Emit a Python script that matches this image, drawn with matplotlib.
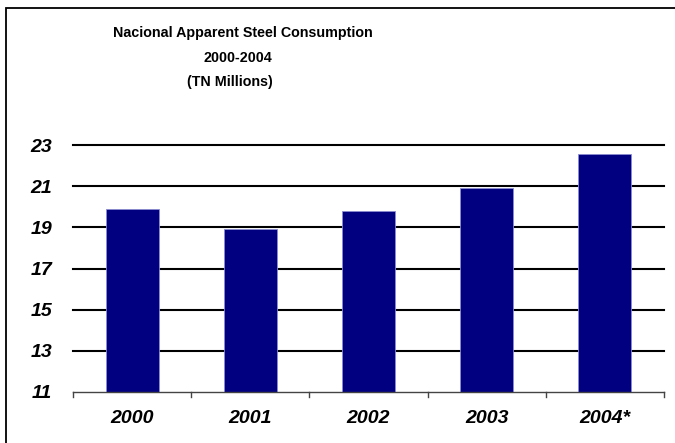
import matplotlib.pyplot as plt
from matplotlib.patches import Rectangle

# data
years = ["2000", "2001", "2002", "2003", "2004*"]
consumption = [19.9, 18.9, 19.8, 20.9, 22.55]
y_ticks = [11, 13, 15, 17, 19, 21, 23]

W, H = 675, 443
fig = plt.figure(figsize=(W / 100, H / 100), dpi=100)
plt.rcParams['font.family'] = ['Liberation Sans', 'DejaVu Sans']

# outer frame (only left and top edges fall inside the picture)
fig.patches.append(Rectangle((6 / W, -0.05), 1.2, (H - 8) / H + 0.05, transform=fig.transFigure,
                             fill=False, edgecolor='black', linewidth=1.3))

# plot area in pixels: x 73..664, y 145 (23) .. 392 (11)
ax = fig.add_axes([73 / W, 1 - 392 / H, (664 - 73) / W, (392 - 145) / H])
x = range(len(years))
ax.bar(x, [v - 11 for v in consumption], bottom=11, width=0.45,
       color='#000080', edgecolor='#8a8ad0', linewidth=0.6, zorder=3)

ax.set_xlim(-0.5, len(years) - 0.5)
ax.set_ylim(11, 23)
ax.set_yticks(y_ticks)
ax.set_yticklabels([str(t) for t in y_ticks], fontsize=14, fontweight='bold', style='italic')
for t in y_ticks[1:]:
    ax.axhline(t, color='black', linewidth=1.5, zorder=1, clip_on=False)

ax.set_xticks(x)
ax.set_xticklabels(years, fontsize=14, fontweight='bold', style='italic')
ax.tick_params(axis='y', length=0, pad=15)
ax.tick_params(axis='x', length=0, pad=13)
# small ticks between categories on the base line
for b in [i - 0.5 for i in range(len(years) + 1)]:
    ax.plot([b, b], [11, 10.75], color='#444444', linewidth=1, clip_on=False, zorder=2)

for s in ['top', 'right', 'left']:
    ax.spines[s].set_visible(False)
ax.spines['bottom'].set_color('#444444')
ax.spines['bottom'].set_linewidth(1)
ax.spines['bottom'].set_zorder(4)

# title lines, each placed as in the original
fig.text(243 / W, 1 - 33 / H, "Nacional Apparent Steel Consumption", ha='center', va='center',
         fontsize=10.3, fontweight='bold')
fig.text(238 / W, 1 - 58 / H, "2000-2004", ha='center', va='center', fontsize=10.3, fontweight='bold')
fig.text(230 / W, 1 - 82 / H, "(TN Millions)", ha='center', va='center', fontsize=10.3, fontweight='bold')

fig.savefig("out.png", dpi=100)
